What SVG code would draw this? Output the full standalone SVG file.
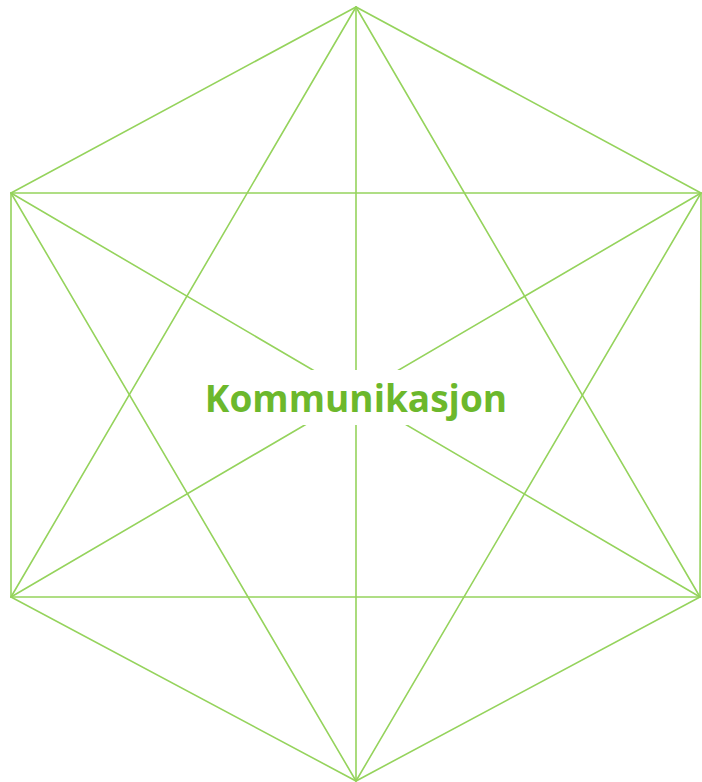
<svg xmlns="http://www.w3.org/2000/svg" width="702" height="782" viewBox="0 0 702 782">
<style>
.ln{stroke:#95d35c;stroke-width:1.6;fill:none;stroke-linecap:round}
.lbl{font-family:"Open Sans","Liberation Sans",sans-serif;font-weight:bold;font-size:37px;fill:#6cb82c}
</style>
<rect width="702" height="782" fill="#ffffff"/>
<g id="connectors">
<path class="ln" d="M356,7 L11,193 L11,597 L356,781 L700,597 L701,193 Z"/>
<line class="ln" x1="356" y1="7" x2="356" y2="781"/>
<line class="ln" x1="11" y1="193" x2="701" y2="193"/>
<line class="ln" x1="11" y1="597" x2="700" y2="597"/>
<line class="ln" x1="356" y1="7" x2="11" y2="597"/>
<line class="ln" x1="356" y1="7" x2="700" y2="597"/>
<line class="ln" x1="356" y1="781" x2="11" y2="193"/>
<line class="ln" x1="356" y1="781" x2="701" y2="193"/>
<line class="ln" x1="11" y1="193" x2="700" y2="597"/>
<line class="ln" x1="701" y1="193" x2="11" y2="597"/>
</g>
<g id="center">
<rect x="196" y="370" width="320" height="55" fill="#ffffff"/>
<text class="lbl" x="356" y="412" text-anchor="middle">Kommunikasjon</text>
</g>
</svg>
